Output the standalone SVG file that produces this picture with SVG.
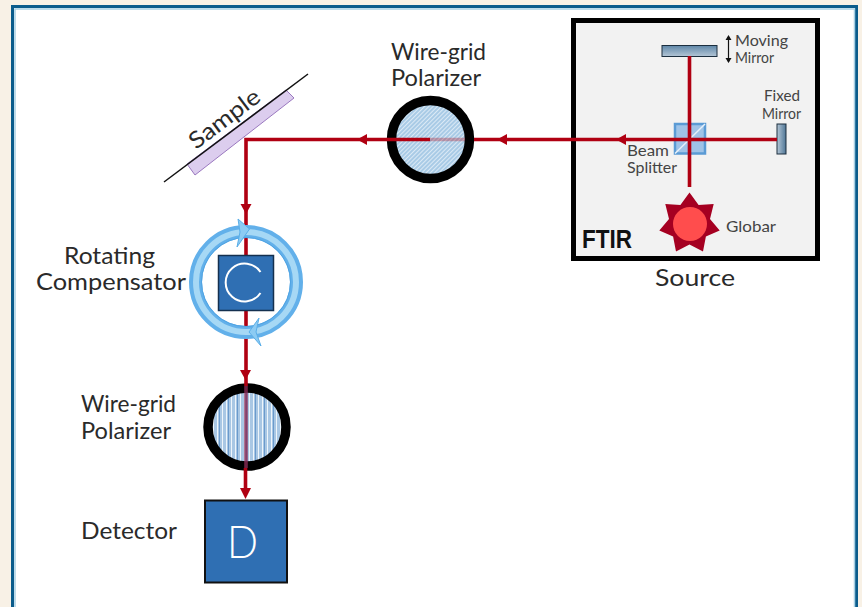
<svg xmlns="http://www.w3.org/2000/svg" width="862" height="607" viewBox="0 0 862 607">
<style>
text{font-family:"Lato","Open Sans","Liberation Sans",sans-serif;fill:#2a2a2a}
.l{font-size:23px}
.s{font-size:15px;fill:#444}
.beam{fill:none;stroke:#b00012;stroke-width:3.600}
.head{fill:#b00012}
</style>
<defs>
<pattern id="diag" width="3" height="3" patternUnits="userSpaceOnUse" patternTransform="rotate(45)"><rect width="3" height="3" fill="#a9cbe6"/><rect width="1" height="3" fill="#dbe9f5"/></pattern>
<pattern id="vert" width="9" height="5" patternUnits="userSpaceOnUse"><rect width="9" height="5" fill="#a9c7e4"/><rect x="1" width="1" height="5" fill="#eef5fb"/><rect x="3" width="0.8" height="5" fill="#5b8fc7"/><rect x="6" width="1" height="5" fill="#eef5fb"/></pattern>
<linearGradient id="mir" x1="0" y1="0" x2="0" y2="1"><stop offset="0" stop-color="#5f87a8"/><stop offset="1" stop-color="#b4c6d6"/></linearGradient>
<linearGradient id="mir2" x1="0" y1="0" x2="1" y2="0"><stop offset="0" stop-color="#b4c6d6"/><stop offset="1" stop-color="#4f7696"/></linearGradient>
</defs>
<rect width="862" height="607" fill="#f8f1e6"/>
<path d="M12.500 607V6.500H856.500V607" fill="#fff" stroke="#0b5c8c" stroke-width="3"/>
<path d="M15 607V9H854.500V607" fill="none" stroke="#a8d0e4" stroke-width="1.500"/>

<g id="ftir">
<rect x="573.500" y="20.500" width="244" height="238" fill="#f2f2f2" stroke="#000" stroke-width="5"/>
<text x="582" y="248" style="font-family:'Liberation Sans',sans-serif;font-weight:700;font-size:26px;fill:#111" textLength="50" lengthAdjust="spacingAndGlyphs">FTIR</text>
</g>
<text class="l" x="655" y="286" textLength="80" lengthAdjust="spacingAndGlyphs">Source</text>

<g id="moving-mirror">
<rect x="662" y="45.500" width="55" height="11" fill="url(#mir)" stroke="#1c2f3f" stroke-width="1"/>
<path d="M728.500 37V62" stroke="#111" stroke-width="1.200"/>
<path d="M725.500 40L728.500 35L731.500 40ZM725.500 58L728.500 63L731.500 58Z" fill="#111"/>
<text class="s" x="735" y="45.500" textLength="53" lengthAdjust="spacingAndGlyphs">Moving</text>
<text class="s" x="735" y="63" textLength="39" lengthAdjust="spacingAndGlyphs">Mirror</text>
</g>
<g id="fixed-mirror">
<rect x="777" y="124" width="9" height="30" fill="url(#mir2)" stroke="#1c2f3f" stroke-width="1"/>
<text class="s" x="764" y="101" textLength="36" lengthAdjust="spacingAndGlyphs">Fixed</text>
<text class="s" x="762" y="119" textLength="39" lengthAdjust="spacingAndGlyphs">Mirror</text>
</g>
<g id="beam-splitter">
<rect x="675" y="124" width="30" height="29.500" fill="#9fc3e8" stroke="#5b9bd5" stroke-width="2.500"/>
<path d="M675 153.500L705 124" stroke="#e6f0fa" stroke-width="1.500"/>
<text class="s" x="627" y="156" textLength="42" lengthAdjust="spacingAndGlyphs">Beam</text>
<text class="s" x="627" y="173" textLength="50" lengthAdjust="spacingAndGlyphs">Splitter</text>
</g>
<g id="globar">
<polygon points="689.500,192.500 698.600,205 713.700,204 710,219 719.700,230.500 705.900,236.500 703,251.500 689.500,244.500 676,251.500 673.100,236.500 659.300,230.500 669,219 665.300,204 680.400,205" fill="#a50021"/>
<circle cx="690" cy="224" r="17" fill="#ff4d4d"/>
<text class="s" x="726" y="232" textLength="50" lengthAdjust="spacingAndGlyphs">Globar</text>
</g>

<g id="sample">
<polygon points="187,164 286,90 294,98 195,175" fill="#dccdee" stroke="#9a78bf" stroke-width="1"/>
<path d="M164 182L308 74" stroke="#111" stroke-width="1.500" fill="none"/>
<text class="l" transform="translate(196 150) rotate(-37)" textLength="83" lengthAdjust="spacingAndGlyphs">Sample</text>
</g>

<g id="polarizer-top">
<circle cx="430.500" cy="139.500" r="39" fill="url(#diag)" stroke="#000" stroke-width="9.500"/>
<text class="l" x="391" y="60" textLength="95" lengthAdjust="spacingAndGlyphs">Wire-grid</text>
<text class="l" x="391" y="86" textLength="90" lengthAdjust="spacingAndGlyphs">Polarizer</text>
</g>
<g id="polarizer-bottom">
<circle cx="247" cy="427" r="39" fill="url(#vert)" stroke="#000" stroke-width="9.500"/>
<text class="l" x="81" y="412" textLength="95" lengthAdjust="spacingAndGlyphs">Wire-grid</text>
<text class="l" x="81" y="439" textLength="90" lengthAdjust="spacingAndGlyphs">Polarizer</text>
</g>
<g id="detector">
<rect x="205" y="500.500" width="82" height="82" fill="#2f6fb3" stroke="#111" stroke-width="2"/>
<text x="227" y="558" style="font-size:46px;font-weight:300;fill:#fff" textLength="31" lengthAdjust="spacingAndGlyphs">D</text>
<text class="l" x="81" y="539" textLength="96" lengthAdjust="spacingAndGlyphs">Detector</text>
</g>

<g id="connectors">
<path class="beam" d="M689.500 56V187"/>
<path class="beam" d="M777 139.500H474"/>
<path class="beam" d="M465 139.500H430" stroke-opacity="0.300"/>
<path class="beam" d="M430 139.500H246V255"/>
<path class="beam" d="M246 311V386"/>
<path class="beam" d="M246 386V468" style="stroke:#8a2a55;stroke-opacity:.8"/>
<path class="beam" d="M245.500 468V490"/>
<polygon class="head" points="616,139.500 626,134 626,145"/>
<polygon class="head" points="497,139.500 507,134 507,145"/>
<polygon class="head" points="357,139.500 367,134 367,145"/>
<polygon class="head" points="246,214 240.500,204 251.500,204"/>
<polygon class="head" points="245.500,380 240,370 251,370"/>
<polygon class="head" points="245.500,499 240,488 251,488"/>
</g>
<g id="compensator">
<g fill="none">
<circle cx="246" cy="282" r="50.500" stroke="#62b0ea" stroke-width="13"/>
<circle cx="246" cy="282" r="50" stroke="#a6d8f5" stroke-width="6"/>
<circle cx="246" cy="282" r="44.500" stroke="#4fa3e3" stroke-width="1"/>
</g>
<polygon points="238,219 249.500,229 237,247 240,232" fill="#8ccbf3" stroke="#5aaee8" stroke-width="1"/>
<polygon points="259,318 249,332 261,346 256,332" fill="#8ccbf3" stroke="#5aaee8" stroke-width="1"/>
<rect x="218.500" y="255.500" width="55" height="55" fill="#2f6fb3" stroke="#14304f" stroke-width="1.500"/>
<path d="M260.500 272A19 19 0 1 0 260.500 293" fill="none" stroke="#fff" stroke-width="2"/>
<text class="l" x="64" y="264" textLength="91" lengthAdjust="spacingAndGlyphs">Rotating</text>
<text class="l" x="36" y="290" textLength="150" lengthAdjust="spacingAndGlyphs">Compensator</text>
</g>
</svg>
